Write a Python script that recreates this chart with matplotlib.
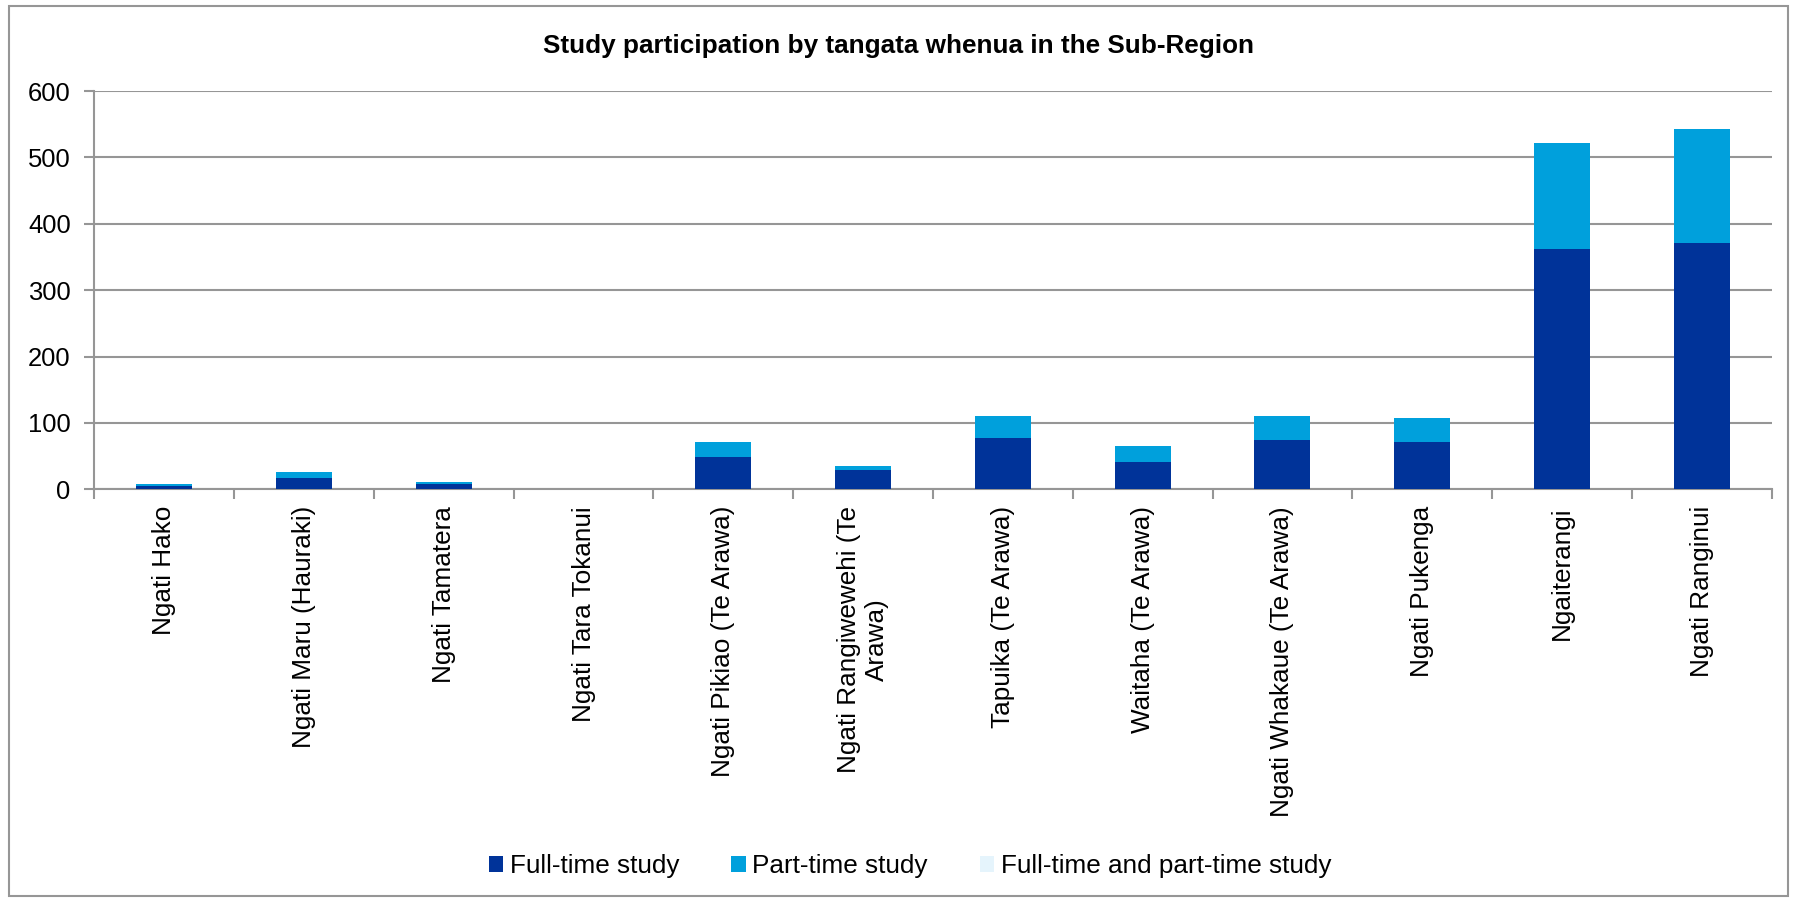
import matplotlib
matplotlib.use("Agg")
import matplotlib.pyplot as plt
from matplotlib.patches import Rectangle
import numpy as np

plt.rcParams["font.family"] = ["Liberation Sans", "DejaVu Sans"]

# Values
categories = [
    "Ngati Hako", "Ngati Maru (Hauraki)", "Ngati Tamatera", "Ngati Tara Tokanui",
    "Ngati Pikiao (Te Arawa)", "Ngati Rangiwewehi (Te\nArawa)", "Tapuika (Te Arawa)",
    "Waitaha (Te Arawa)", "Ngati Whakaue (Te Arawa)", "Ngati Pukenga",
    "Ngaiterangi", "Ngati Ranginui",
]
full_time = [5, 17, 8, 0, 49, 29, 77, 41, 74, 71, 362, 371]
part_time = [3, 9, 3, 0, 23, 6, 34, 25, 37, 37, 160, 172]
both      = [0, 0, 0, 0, 0, 0, 0, 0, 0, 0, 0, 0]
y_ticks = [0, 100, 200, 300, 400, 500, 600]

C_FULL = "#003399"
C_PART = "#00a0dc"
C_BOTH = "#e5f4fc"
GRID = "#969696"
FS = 18.8

fig = plt.figure(figsize=(17.93, 9.02), dpi=100)
ax = fig.add_axes([0.0526, 0.4575, 0.9355, 0.4416])

x = np.arange(len(categories))
w = 0.4
ft = np.array(full_time)
pt = np.array(part_time)
ax.bar(x, ft, w, color=C_FULL, label="Full-time study", zorder=3)
ax.bar(x, pt, w, bottom=ft, color=C_PART, label="Part-time study", zorder=3)
ax.bar(x, both, w, bottom=ft + pt, color=C_BOTH, label="Full-time and part-time study", zorder=3)

ax.set_xlim(-0.5, len(categories) - 0.5)
ax.set_ylim(0, 600)
ax.set_yticks(y_ticks)
ax.yaxis.grid(True, color=GRID, linewidth=1.5, zorder=0)
ax.tick_params(axis="y", length=7, width=1.5, color=GRID, labelsize=18.4, pad=10)

# category ticks sit between bars, labels at bar centres
ax.set_xticks(np.arange(-0.5, len(categories), 1.0))
ax.set_xticklabels([])
ax.tick_params(axis="x", which="major", length=7, width=1.5, color=GRID)
ax.set_xticks(x, minor=True)
ax.set_xticklabels(categories, minor=True, rotation=90, ha="center", va="top",
                   multialignment="center", fontsize=FS)
ax.tick_params(axis="x", which="minor", length=0, pad=12)

for s in ["top", "right"]:
    ax.spines[s].set_visible(False)
for s in ["left", "bottom"]:
    ax.spines[s].set_color(GRID)
    ax.spines[s].set_linewidth(1.5)

fig.text(0.5011, 0.9416, "Study participation by tangata whenua in the Sub-Region",
         ha="center", va="baseline", fontsize=FS, fontweight="bold")

fig.legend(loc="center", bbox_to_anchor=(0.5075, 0.0395), ncol=3, frameon=False,
           fontsize=FS, handlelength=0.55, handleheight=0.55, handletextpad=0.25,
           columnspacing=2.0)

fig.patches.append(Rectangle((0.005, 0.007), 0.992, 0.986, transform=fig.transFigure,
                             fill=False, edgecolor=GRID, linewidth=1.5))

fig.savefig("out.png", dpi=100)
